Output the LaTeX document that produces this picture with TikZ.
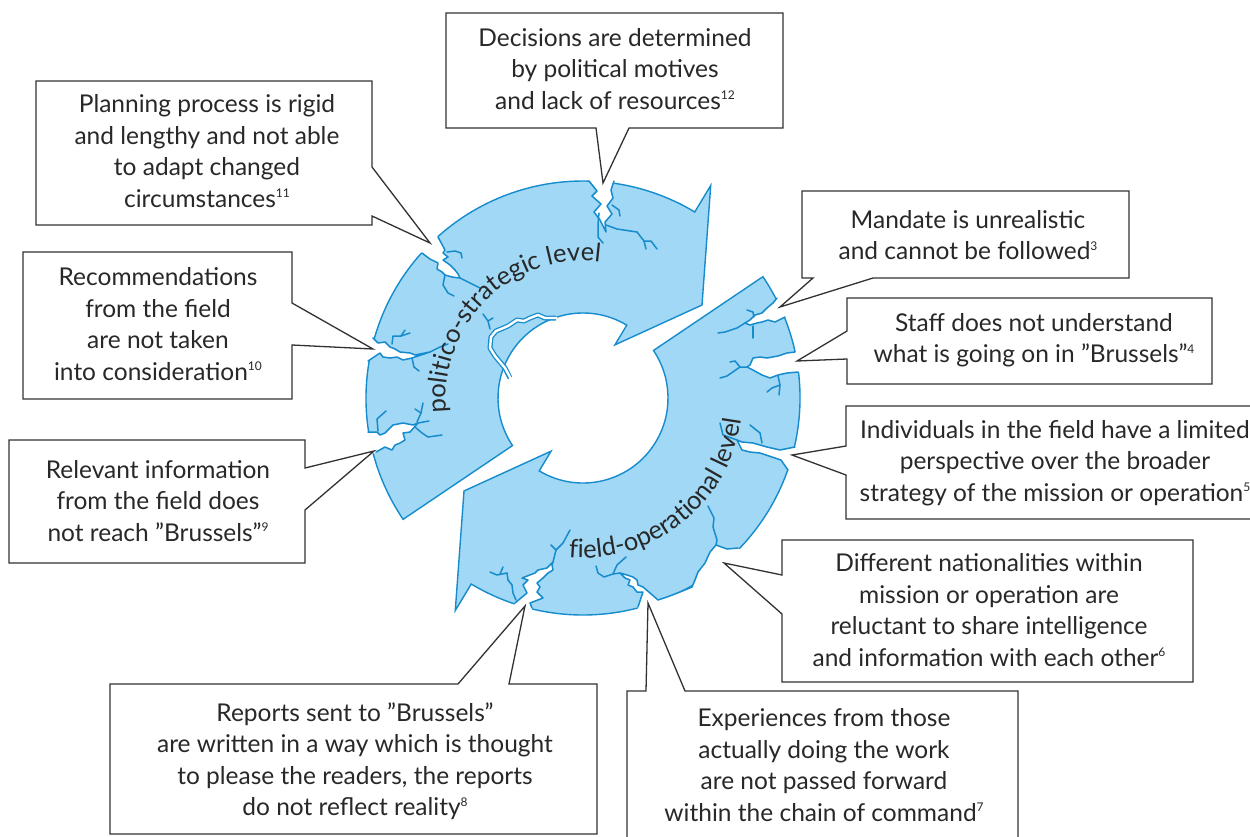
\documentclass[tikz,border=0pt]{standalone}
\usepackage{fontspec}
\setmainfont{Lato}
\usetikzlibrary{decorations.text}
\definecolor{ringfill}{RGB}{160,216,245}
\definecolor{ringline}{RGB}{22,140,205}
\definecolor{txt}{RGB}{40,40,40}
\definecolor{boxline}{RGB}{50,50,50}
\newcommand\supnum[1]{\raisebox{9.5pt}{\fontsize{12}{12}\selectfont #1}}
\newcommand\ringfont{\fontsize{25.5}{25.5}\selectfont\color{txt}}
\begin{document}
\begin{tikzpicture}[x=1pt,y=-1pt,
  ringshape/.style={fill=ringfill, draw=ringline, line width=1.4pt, line join=miter},
  crackline/.style={draw=ringline, line width=1.5pt, line join=round, line cap=round},
  callout/.style={fill=white, draw=boxline, line width=1.3pt, line join=miter},
  boxtext/.style={align=center, text=txt, font=\fontsize{24.5}{31.5}\selectfont, inner sep=0pt}]
\useasboundingbox (0,0) rectangle (1250,836);
\clip (0,0) rectangle (1250,836);

% ---- ring of two arrows ----
\begin{scope}[shift={(583,398)}]
\path[ringshape] (-214:217) arc[start angle=-214, end angle=-59, radius=217] -- (-59:248) -- (-38:151) -- (-59:62) -- (-59:85) arc[start angle=-59, end angle=-214, radius=85] -- cycle;
\path[ringshape] (-34:217) arc[start angle=-34, end angle=121, radius=217] -- (121:248) -- (142:151) -- (121:62) -- (121:85) arc[start angle=121, end angle=-34, radius=85] -- cycle;
\end{scope}

% ---- cracks ----
% A (top)
\fill[white] (587,173) -- (589,181) -- (597,191) -- (592,196) -- (601,204) -- (594,212) -- (600,220) -- (606,232) -- (605,222) -- (612,214) -- (607,206) -- (613,198) -- (611,190) -- (614,181) -- (616,173) -- cycle;
\draw[crackline] (589,181) -- (597,191) -- (592,196) -- (601,204) -- (594,212) -- (600,220) -- (606,232) -- (605,222) -- (612,214) -- (607,206) -- (613,198) -- (611,190) -- (614,181);
\draw[crackline] (606,225) -- (617,229) -- (637,232) -- (644,241) -- (646,249);
\draw[crackline] (644,241) -- (651,241) -- (657,249);
\draw[crackline] (599,213) -- (598,224) -- (598,237) -- (603,243);
\draw[crackline] (612,205) -- (619,210) -- (620,216);
% B
\fill[white] (415,247) -- (422,253) -- (430,259) -- (438,263) -- (437,269) -- (442,272) -- (445,275) -- (452,277) -- (460,278) -- (458,274) -- (455,270) -- (450,265) -- (443,260) -- (448,257) -- (443,253) -- (445,250) -- (438,237) -- (433,231) -- cycle;
\draw[crackline] (422,253) -- (430,259) -- (438,263) -- (437,269) -- (442,272) -- (445,275) -- (452,277) -- (460,278) -- (458,274) -- (455,270) -- (450,265) -- (443,260) -- (448,257) -- (443,253) -- (445,250) -- (438,237);
\draw[crackline] (460,278) -- (470,283) -- (480,288);
\draw[crackline] (445,275) -- (443,285) -- (448,293) -- (454,296);
\draw[crackline] (447,252) -- (455,251) -- (461,253) -- (462,258);
% C
\fill[white] (366,336) -- (373,338) -- (378,343) -- (385,342) -- (390,347) -- (395,349) -- (400,352) -- (410,353) -- (415,355) -- (430,352) -- (412,358) -- (403,360) -- (397,357) -- (390,358) -- (383,357) -- (380,353) -- (368,361) -- (360,362) -- cycle;
\draw[crackline] (373,338) -- (378,343) -- (385,342) -- (390,347) -- (395,349) -- (400,352) -- (410,353) -- (415,355) -- (430,352) -- (412,358) -- (403,360) -- (397,357) -- (390,358) -- (383,357) -- (380,353) -- (368,361);
\draw[crackline] (392,344) -- (393,336) -- (401,336) -- (410,333);
\draw[crackline] (401,336) -- (405,330);
\draw[crackline] (430,352) -- (440,347) -- (448,344);
\draw[crackline] (412,358) -- (414,367) -- (419,371);
% D
\fill[white] (361,431) -- (368,432) -- (377,432) -- (380,435) -- (385,433) -- (393,425) -- (403,423) -- (413,425) -- (418,423) -- (410,432) -- (403,433) -- (405,440) -- (400,443) -- (395,445) -- (392,450) -- (385,447) -- (376,452) -- (369,455) -- cycle;
\draw[crackline] (368,432) -- (377,432) -- (380,435) -- (385,433) -- (393,425) -- (403,423) -- (413,425) -- (418,423) -- (410,432) -- (403,433) -- (405,440) -- (400,443) -- (395,445) -- (392,450) -- (385,447) -- (376,452);
\draw[crackline] (417,422) -- (421,413) -- (423,403);
\draw[crackline] (421,413) -- (415,409);
\draw[crackline] (418,423) -- (429,421);
\draw[crackline] (415,427) -- (422,433) -- (428,437) -- (442,435);
\draw[crackline] (378,431) -- (377,419) -- (386,411);
% E
\fill[white] (513,610) -- (515,603) -- (527,593) -- (523,585) -- (528,580) -- (522,578) -- (535,573) -- (538,570) -- (547,568) -- (553,562) -- (552,565) -- (553,570) -- (548,573) -- (543,578) -- (537,583) -- (540,587) -- (537,592) -- (543,598) -- (530,603) -- (532,608) -- (531,616) -- cycle;
\draw[crackline] (515,603) -- (527,593) -- (523,585) -- (528,580) -- (522,578) -- (535,573) -- (538,570) -- (547,568) -- (553,562) -- (552,565) -- (553,570) -- (548,573) -- (543,578) -- (537,583) -- (540,587) -- (537,592) -- (543,598) -- (530,603) -- (532,608);
\draw[crackline] (553,562) -- (556,550) -- (563,543) -- (570,530);
\draw[crackline] (556,550) -- (551,545);
\draw[crackline] (490,572) -- (497,575) -- (507,573) -- (508,580) -- (512,585) -- (513,593) -- (516,600);
\draw[crackline] (500,574) -- (503,567);
% F and the broken rim to G
\fill[white] (637,615) -- (638,607) -- (643,592) -- (637,592) -- (633,587) -- (628,585) -- (630,580) -- (625,578) -- (620,573) -- (627,575) -- (633,577) -- (637,580) -- (638,585) -- (643,587) -- (650,593) -- (658,600) -- (667,597) -- (680,592) -- (692,587) -- (695,580) -- (698,572) -- (705,563) -- (710,552) -- (716,545) -- (727,549) -- (738,548) -- (747,556) -- (723,578) -- (697,595) -- (668,609) -- (650,616) -- cycle;
\draw[crackline] (638,607) -- (643,592) -- (637,592) -- (633,587) -- (628,585) -- (630,580) -- (625,578) -- (620,573) -- (627,575) -- (633,577) -- (637,580) -- (638,585) -- (643,587) -- (650,593) -- (658,600) -- (667,597) -- (680,592) -- (692,587) -- (695,580) -- (698,572) -- (705,563) -- (710,552) -- (716,545) -- (727,549) -- (738,548);
\draw[crackline] (620,573) -- (613,574) -- (604,577) -- (598,573) -- (596,566);
\draw[crackline] (613,574) -- (617,565) -- (626,557);
\draw[crackline] (708,506) -- (714,518) -- (713,527) -- (717,540) -- (716,545);
% H
\fill[white] (803,446) -- (795,447) -- (780,450) -- (767,447) -- (753,443) -- (742,442) -- (737,440) -- (742,450) -- (750,452) -- (760,453) -- (775,458) -- (781,460) -- (788,470) -- (796,473) -- cycle;
\draw[crackline] (795,447) -- (780,450) -- (767,447) -- (753,443) -- (742,442) -- (737,440) -- (742,450) -- (750,452) -- (760,453) -- (775,458) -- (781,460) -- (788,470);
\draw[crackline] (750,425) -- (760,433) -- (762,443);
\draw[crackline] (720,423) -- (723,435) -- (737,440);
% I
\fill[white] (803,350) -- (795,352) -- (787,353) -- (778,356) -- (767,358) -- (760,357) -- (753,358) -- (750,365) -- (747,367) -- (753,370) -- (762,375) -- (770,378) -- (778,375) -- (787,373) -- (798,372) -- (806,373) -- cycle;
\draw[crackline] (795,352) -- (787,353) -- (778,356) -- (767,358) -- (760,357) -- (753,358) -- (750,365) -- (747,367) -- (753,370) -- (762,375) -- (770,378) -- (778,375) -- (787,373) -- (798,372);
\draw[crackline] (747,367) -- (740,367) -- (727,376) -- (720,378);
\draw[crackline] (740,367) -- (735,361) -- (730,362);
\draw[crackline] (778,376) -- (780,385) -- (779,395);
\draw[crackline] (780,385) -- (772,388) -- (767,392);
% J
\fill[white] (784,293) -- (777,298) -- (773,303) -- (767,308) -- (762,313) -- (755,315) -- (750,320) -- (745,323) -- (750,325) -- (757,323) -- (762,322) -- (768,320) -- (775,322) -- (785,317) -- (792,317) -- cycle;
\draw[crackline] (777,298) -- (773,303) -- (767,308) -- (762,313) -- (755,315) -- (750,320) -- (745,323) -- (750,325) -- (757,323) -- (762,322) -- (768,320) -- (775,322) -- (785,317);
\draw[crackline] (745,323) -- (737,328) -- (725,332) -- (718,333);
\draw[crackline] (747,310) -- (753,312) -- (754,317);
\draw[crackline] (753,326) -- (753,338);
% inner band of the upper arrow
\draw[ringline, line width=5pt, line join=round] (556,318) -- (545,318) -- (538,315) -- (530,318) -- (524,321) -- (517,320) -- (508,326) -- (501,329) -- (496,331) -- (491,337) -- (490,348) -- (495,356) -- (500,362) -- (505,368) -- (510,378);
\draw[white, line width=2.4pt, line join=round] (557,318) -- (545,318) -- (538,315) -- (530,318) -- (524,321) -- (517,320) -- (508,326) -- (501,329) -- (496,331) -- (491,337) -- (490,348) -- (495,356) -- (500,362) -- (505,368) -- (511,379);
\draw[crackline] (483,314) -- (488,321) -- (490,329);
\draw[crackline] (488,321) -- (493,318);

% ---- ring labels ----
\path[decorate, decoration={text along path, text align=center, text={|\ringfont|politico-strategic level}}] (583,398) ++(-190:137) arc[start angle=-190, end angle=-79, radius=137];
\path[decorate, decoration={text along path, text align=center, text={|\ringfont|field-operational level}}] (583,398) ++(100:160) arc[start angle=100, end angle=3, radius=160];

% ---- callouts ----
\path[callout] (446,13) -- (783,13) -- (783,128) -- (629,128) -- (603,183) -- (596,128) -- (446,128) -- cycle;
\node[boxtext] (t12) at (615,69) {Decisions are determined\\by political motives\\and lack of resources\supnum{12}};

\path[callout] (36,81) -- (372,81) -- (372,167) -- (430,243) -- (372,216) -- (372,225) -- (36,225) -- cycle;
\node[boxtext] (t11) at (207,151) {Planning process is rigid\\and lengthy and not able\\to adapt changed\\circumstances\supnum{11}};

\path[callout] (23,252) -- (292,252) -- (292,303) -- (373,349) -- (292,345) -- (292,399) -- (23,399) -- cycle;
\node[boxtext] (t10) at (158,324) {Recommendations\\from the field\\are not taken\\into consideration\supnum{10}};

\path[callout] (9,440) -- (305,440) -- (305,468) -- (374,451) -- (305,510) -- (305,563) -- (9,563) -- cycle;
\node[boxtext] (t9) at (158,501) {Relevant information\\from the field does\\not reach ”Brussels”\supnum{9}};

\path[callout] (110,684) -- (458,684) -- (525,606) -- (509,684) -- (597,684) -- (597,834) -- (110,834) -- cycle;
\node[boxtext] (t8) at (355,761) {Reports sent to ”Brussels”\\are written in a way which is thought\\to please the readers, the reports\\do not reflect reality\supnum{8}};

\path[callout] (627,691) -- (646,691) -- (648,603) -- (685,691) -- (1018,691) -- (1018,850) -- (627,850) -- cycle;
\node[boxtext] (t7) at (824,765) {Experiences from those\\actually doing the work\\are not passed forward\\within the chain of command\supnum{7}};

\path[callout] (782,540) -- (1193,540) -- (1193,682) -- (782,682) -- (782,614) -- (724,563) -- (782,575) -- cycle;
\node[boxtext] (t6) at (989,610) {Different nationalities within\\mission or operation are\\reluctant to share intelligence\\and information with each other\supnum{6}};

\path[callout] (846,406) -- (1265,406) -- (1265,519) -- (846,519) -- (846,475) -- (792,455) -- (846,446) -- cycle;
\node[boxtext] (t5) at (1055,463) {Individuals in the field have a limited\\perspective over the broader\\strategy of the mission or operation\supnum{5}};

\path[callout] (847,298) -- (1212,298) -- (1212,384) -- (847,384) -- (847,359) -- (797,361) -- (847,331) -- cycle;
\node[boxtext] (t4) at (1034,340) {Staff does not understand\\what is going on in ”Brussels”\supnum{4}};

\path[callout] (802,191) -- (1129,191) -- (1129,278) -- (873,278) -- (780,307) -- (813,278) -- (802,278) -- cycle;
\node[boxtext] (t3) at (968,235) {Mandate is unrealistic\\and cannot be followed\supnum{3}};
\end{tikzpicture}
\end{document}
